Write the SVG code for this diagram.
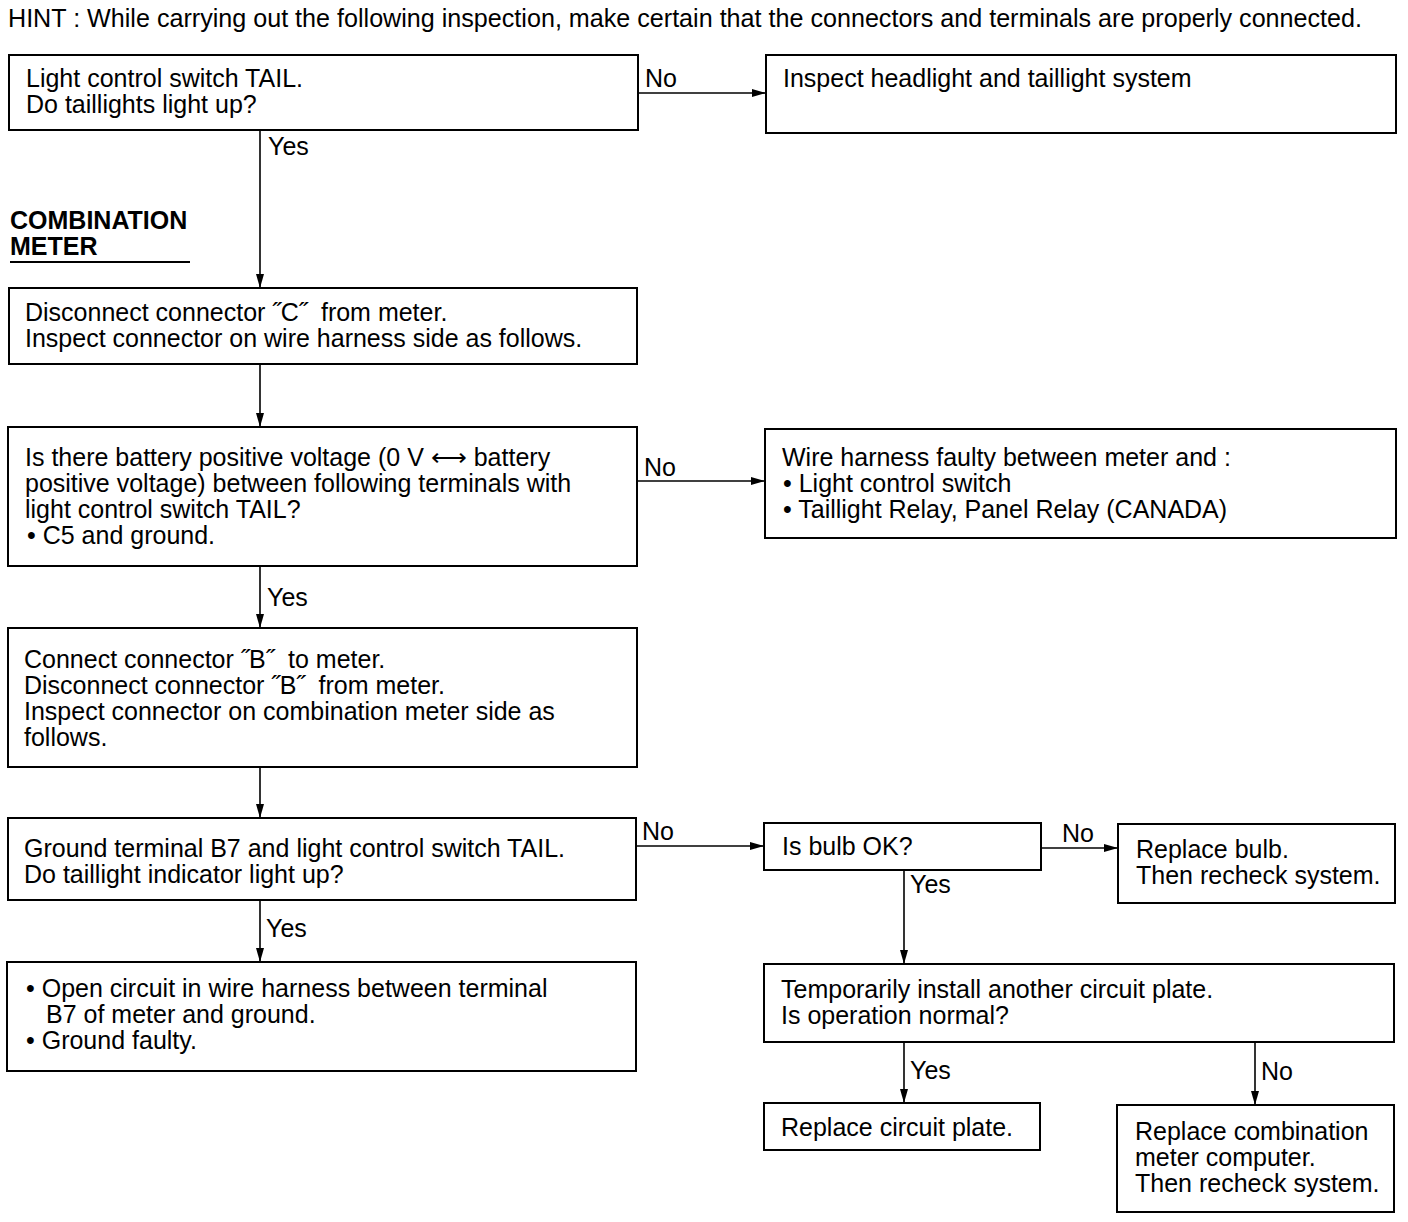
<svg xmlns="http://www.w3.org/2000/svg" width="1408" height="1222" viewBox="0 0 1408 1222">
<style>
text{font-family:"Liberation Sans",Arial,sans-serif;font-size:25px;fill:#000}
.b{font-weight:bold}
.box{fill:#fff;stroke:#000;stroke-width:2}
.ln{stroke:#000;stroke-width:1.6;fill:none}
</style>
<defs>
<marker id="ah" markerWidth="14" markerHeight="8" refX="14" refY="4" orient="auto" markerUnits="userSpaceOnUse">
<path d="M0,0 L14,4 L0,8 Z" fill="#000"/>
</marker>
</defs>
<rect width="1408" height="1222" fill="#fff"/>
<text x="8" y="27" textLength="1354" lengthAdjust="spacingAndGlyphs">HINT : While carrying out the following inspection, make certain that the connectors and terminals are properly connected.</text>
<g id="heading">
<text class="b" x="10" y="229">COMBINATION</text>
<text class="b" x="10" y="255">METER</text>
<line x1="10" y1="262" x2="190" y2="262" stroke="#000" stroke-width="2"/>
</g>
<g id="connectors">
<line class="ln" x1="638" y1="93" x2="766" y2="93" marker-end="url(#ah)"/>
<text x="645" y="87">No</text>
<line class="ln" x1="260" y1="130" x2="260" y2="288" marker-end="url(#ah)"/>
<text x="268" y="155">Yes</text>
<line class="ln" x1="260" y1="364" x2="260" y2="427" marker-end="url(#ah)"/>
<line class="ln" x1="637" y1="481" x2="765" y2="481" marker-end="url(#ah)"/>
<text x="644" y="476">No</text>
<line class="ln" x1="260" y1="566" x2="260" y2="628" marker-end="url(#ah)"/>
<text x="267" y="606">Yes</text>
<line class="ln" x1="260" y1="767" x2="260" y2="818" marker-end="url(#ah)"/>
<line class="ln" x1="636" y1="846" x2="764" y2="846" marker-end="url(#ah)"/>
<text x="642" y="840">No</text>
<line class="ln" x1="260" y1="900" x2="260" y2="962" marker-end="url(#ah)"/>
<text x="266" y="937">Yes</text>
<line class="ln" x1="1041" y1="848" x2="1118" y2="848" marker-end="url(#ah)"/>
<text x="1062" y="842">No</text>
<line class="ln" x1="904" y1="870" x2="904" y2="964" marker-end="url(#ah)"/>
<text x="910" y="893">Yes</text>
<line class="ln" x1="904" y1="1042" x2="904" y2="1103" marker-end="url(#ah)"/>
<text x="910" y="1079">Yes</text>
<line class="ln" x1="1255" y1="1042" x2="1255" y2="1105" marker-end="url(#ah)"/>
<text x="1261" y="1080">No</text>
</g>
<g id="n1">
<rect class="box" x="9" y="55" width="629" height="75"/>
<text x="26" y="87">Light control switch TAIL.</text>
<text x="26" y="113">Do taillights light up?</text>
</g>
<g id="n2">
<rect class="box" x="766" y="55" width="630" height="78"/>
<text x="783" y="87">Inspect headlight and taillight system</text>
</g>
<g id="n3">
<rect class="box" x="9" y="288" width="628" height="76"/>
<text x="25" y="321">Disconnect connector ˝C˝&#160; from meter.</text>
<text x="25" y="347">Inspect connector on wire harness side as follows.</text>
</g>
<g id="n4">
<rect class="box" x="8" y="427" width="629" height="139"/>
<text x="25" y="466">Is there battery positive voltage (0 V ⟷ battery</text>
<text x="25" y="492">positive voltage) between following terminals with</text>
<text x="25" y="518">light control switch TAIL?</text>
<text x="27" y="544">• C5 and ground.</text>
</g>
<g id="n5">
<rect class="box" x="765" y="429" width="631" height="109"/>
<text x="782" y="466">Wire harness faulty between meter and :</text>
<text x="783" y="492">• Light control switch</text>
<text x="783" y="518">• Taillight Relay, Panel Relay (CANADA)</text>
</g>
<g id="n6">
<rect class="box" x="8" y="628" width="629" height="139"/>
<text x="24" y="668">Connect connector ˝B˝&#160; to meter.</text>
<text x="24" y="694">Disconnect connector ˝B˝&#160; from meter.</text>
<text x="24" y="720">Inspect connector on combination meter side as</text>
<text x="24" y="746">follows.</text>
</g>
<g id="n7">
<rect class="box" x="8" y="818" width="628" height="82"/>
<text x="24" y="857">Ground terminal B7 and light control switch TAIL.</text>
<text x="24" y="883">Do taillight indicator light up?</text>
</g>
<g id="n8">
<rect class="box" x="764" y="823" width="277" height="47"/>
<text x="782" y="855">Is bulb OK?</text>
</g>
<g id="n9">
<rect class="box" x="1118" y="824" width="277" height="79"/>
<text x="1136" y="858">Replace bulb.</text>
<text x="1136" y="884">Then recheck system.</text>
</g>
<g id="n10">
<rect class="box" x="7" y="962" width="629" height="109"/>
<text x="26" y="997">• Open circuit in wire harness between terminal</text>
<text x="46" y="1023">B7 of meter and ground.</text>
<text x="26" y="1049">• Ground faulty.</text>
</g>
<g id="n11">
<rect class="box" x="764" y="964" width="630" height="78"/>
<text x="781" y="998">Temporarily install another circuit plate.</text>
<text x="781" y="1024">Is operation normal?</text>
</g>
<g id="n12">
<rect class="box" x="764" y="1103" width="276" height="47"/>
<text x="781" y="1136">Replace circuit plate.</text>
</g>
<g id="n13">
<rect class="box" x="1117" y="1105" width="277" height="107"/>
<text x="1135" y="1140">Replace combination</text>
<text x="1135" y="1166">meter computer.</text>
<text x="1135" y="1192">Then recheck system.</text>
</g>
</svg>
